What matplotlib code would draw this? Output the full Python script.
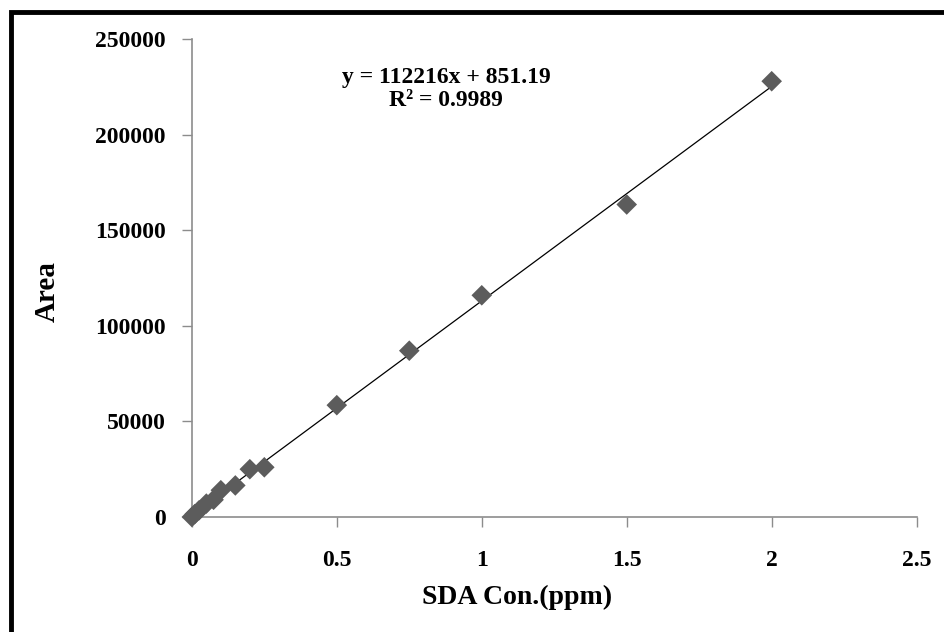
import matplotlib.pyplot as plt
import matplotlib.patches as mpatches
import numpy as np

plt.rcParams['font.family'] = ['Liberation Serif', 'DejaVu Serif']

# calibration points
conc = [0.0, 0.01, 0.025, 0.05, 0.075, 0.1, 0.15, 0.2, 0.25, 0.5, 0.75, 1.0, 1.5, 2.0]
area = [0, 1500, 3500, 7000, 9000, 14000, 16500, 25000, 26000, 58500, 87000, 116000, 163500, 228000]

slope = 112216
intercept = 851.19
eq_text = "y = 112216x + 851.19"
r2_text = "R\u00b2 = 0.9989"

xticks = [0, 0.5, 1, 1.5, 2, 2.5]
xtick_labels = ["0", "0.5", "1", "1.5", "2", "2.5"]
yticks = [0, 50000, 100000, 150000, 200000, 250000]

fig = plt.figure(figsize=(9.45, 6.32), dpi=100)

# outer chart frame (only left and top edges visible in the crop)
frame = mpatches.Rectangle((10.5 / 945, -1), 2.0, 2 - 11.5 / 632,
                           transform=fig.transFigure, fill=False,
                           edgecolor='black', linewidth=3.5, zorder=0)
fig.patches.append(frame)

ax = fig.add_axes([0.203, 0.182, 0.767, 0.756])

# trendline over data range
xl = np.array([0, max(conc)])
ax.plot(xl, slope * xl + intercept, color='black', linewidth=0.9, zorder=2)

ax.scatter(conc, area, marker='D', s=110, color='#5c5c5c',
           edgecolors='none', zorder=3, clip_on=False)

ax.set_xlim(0, 2.5)
ax.set_ylim(0, 250000)
ax.set_xticks(xticks)
ax.set_xticklabels(xtick_labels)
ax.set_yticks(yticks)

for s in ['top', 'right']:
    ax.spines[s].set_visible(False)
for s in ['left', 'bottom']:
    ax.spines[s].set_color('#8c8c8c')
    ax.spines[s].set_linewidth(1.2)

ax.tick_params(axis='both', direction='out', length=7, width=1.0,
               color='#8c8c8c', labelsize=17)
ax.tick_params(axis='y', pad=12)
ax.tick_params(axis='x', pad=17)
for lab in ax.get_xticklabels() + ax.get_yticklabels():
    lab.set_fontweight('bold')

ax.set_xlabel("SDA Con.(ppm)", fontsize=20, fontweight='bold')
ax.xaxis.set_label_coords((517 - 191.7) / 725, -(597 - 517) / 478)
ax.set_ylabel("Area", fontsize=21, fontweight='bold')
ax.yaxis.set_label_coords(-(191.7 - 47) / 725, (517 - 291) / 478)
ax.xaxis.label.set_va('center')
ax.yaxis.label.set_va('center')

fig.text(446 / 945, 1 - 77 / 632, eq_text, ha='center', va='center',
         fontsize=17, fontweight='bold')
fig.text(446 / 945, 1 - 101 / 632, r2_text, ha='center', va='center',
         fontsize=17, fontweight='bold')

fig.savefig("out.png", dpi=100)
